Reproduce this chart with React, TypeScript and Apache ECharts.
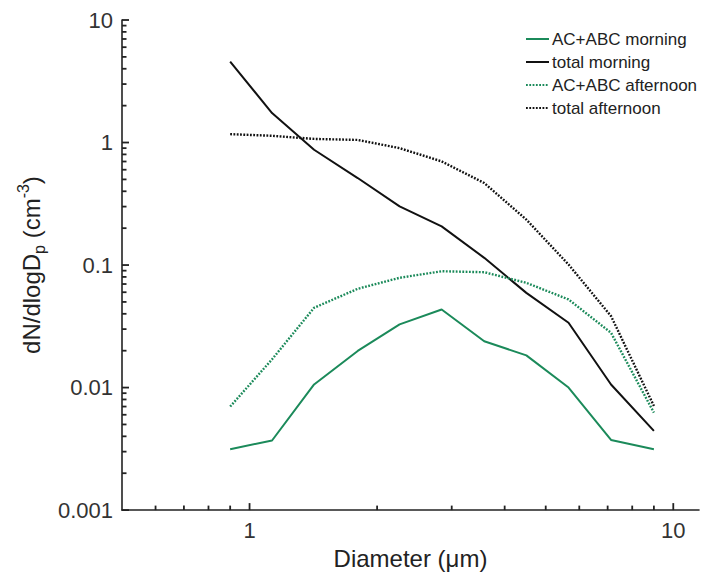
import React, { useEffect, useRef } from "react";
import * as echarts from "echarts";

// Diameters (µm) at which the size distributions are given
const diameters = [0.9, 1.13, 1.42, 1.8, 2.26, 2.84, 3.58, 4.5, 5.66, 7.13, 9.0];
// dN/dlogDp (cm^-3)
const acMorning = [0.00314, 0.0037, 0.0106, 0.0199, 0.0328, 0.0434, 0.0239, 0.0183, 0.01, 0.00374, 0.00314];
const totalMorning = [4.57, 1.74, 0.873, 0.513, 0.301, 0.207, 0.1145, 0.0593, 0.0338, 0.0106, 0.00443];
const acAfternoon = [0.007, 0.017, 0.0448, 0.064, 0.0787, 0.089, 0.0874, 0.0716, 0.0524, 0.028, 0.00625];
const totalAfternoon = [1.17, 1.135, 1.07, 1.05, 0.9, 0.701, 0.467, 0.235, 0.101, 0.0383, 0.00708];

const seriesNames = ["AC+ABC morning", "total morning", "AC+ABC afternoon", "total afternoon"];

// Axis ranges and ticks
const xMin = 0.5;
const xMax = 11.5;
const yMin = 0.001;
const yMax = 10;
const xMajorTicks = [1, 10];
const xMinorTicks = [0.6, 0.7, 0.8, 0.9, 2, 3, 4, 5, 6, 7, 8, 9];
const yMajorTicks = [0.001, 0.01, 0.1, 1, 10];
const yMinorMultipliers = [2, 3, 4, 5, 6, 7, 8, 9];
const yDecades = [0.001, 0.01, 0.1, 1];

const FONT = "Liberation Sans, Arial, Helvetica, sans-serif";
const GREEN = "#1b8a5a";
const BLACK = "#111111";
const AXIS = "#222222";
const DOT: number[] = [1.8, 1.5];

export default function App() {
  const ref = useRef<HTMLDivElement>(null);

  useEffect(() => {
    if (!ref.current) return;
    const chart = echarts.init(ref.current, undefined, { renderer: "svg" });

    const pairs = (ys: number[]) => diameters.map((d, i) => [d, ys[i]]);

    const isDecade = (v: number) => {
      const l = Math.log10(v);
      return Math.abs(l - Math.round(l)) < 1e-6;
    };
    const fmt = (v: number) => (isDecade(v) ? String(Number(v.toPrecision(3))) : "");

    chart.setOption({
      animation: false,
      backgroundColor: "#ffffff",
      grid: { left: 122, right: 0, top: 20, bottom: 64, containLabel: false },
      legend: {
        orient: "vertical",
        left: 525,
        top: 30,
        padding: 0,
        itemWidth: 23,
        itemHeight: 10,
        itemGap: 5,
        data: seriesNames,
        itemStyle: { opacity: 0, borderWidth: 0 },
        textStyle: { fontFamily: FONT, fontSize: 17, color: "#222", lineHeight: 18, padding: [0, 0, 0, -2] },
      },
      xAxis: {
        type: "log",
        logBase: 10,
        min: xMin,
        max: xMax,
        name: "Diameter (μm)",
        nameLocation: "middle",
        nameGap: 32,
        nameTextStyle: { fontFamily: FONT, fontSize: 24, color: "#222" },
        axisLine: { show: true, lineStyle: { color: AXIS, width: 1.6 } },
        axisTick: { show: false },
        splitLine: { show: false },
        minorTick: { show: false },
        axisLabel: { formatter: fmt, fontFamily: FONT, fontSize: 22, color: "#333", margin: 9 },
      },
      yAxis: {
        type: "log",
        logBase: 10,
        min: yMin,
        max: yMax,
        name: "{a|dN/dlogD}{sub|p}{a| (cm}{sup|-3}{a|)}",
        nameLocation: "middle",
        nameRotate: 90,
        nameGap: 62,
        nameTextStyle: {
          fontFamily: FONT,
          fontSize: 24,
          color: "#222",
          rich: {
            a: { fontFamily: FONT, fontSize: 24, color: "#222", lineHeight: 32, verticalAlign: "middle" },
            sub: { fontFamily: FONT, fontSize: 16, color: "#222", lineHeight: 32, verticalAlign: "bottom" },
            sup: { fontFamily: FONT, fontSize: 16, color: "#222", lineHeight: 32, verticalAlign: "top" },
          },
        },
        axisLine: { show: true, lineStyle: { color: AXIS, width: 1.6 } },
        axisTick: { show: false },
        splitLine: { show: false },
        minorTick: { show: false },
        axisLabel: { formatter: fmt, fontFamily: FONT, fontSize: 22, color: "#333", margin: 9 },
      },
      series: [
        {
          name: seriesNames[0],
          type: "line",
          data: pairs(acMorning),
          symbol: "none",
          lineStyle: { color: GREEN, width: 2 },
          itemStyle: { color: GREEN },
        },
        {
          name: seriesNames[1],
          type: "line",
          data: pairs(totalMorning),
          symbol: "none",
          lineStyle: { color: BLACK, width: 2 },
          itemStyle: { color: BLACK },
        },
        {
          name: seriesNames[2],
          type: "line",
          data: pairs(acAfternoon),
          symbol: "none",
          lineStyle: { color: GREEN, width: 2.4, type: DOT },
          itemStyle: { color: GREEN },
        },
        {
          name: seriesNames[3],
          type: "line",
          data: pairs(totalAfternoon),
          symbol: "none",
          lineStyle: { color: BLACK, width: 2.4, type: DOT },
          itemStyle: { color: BLACK },
        },
      ],
    });

    // Tick marks (inward), positioned through the chart's own log scales
    const ticks: any[] = [];
    const toPx = (x: number, y: number) =>
      chart.convertToPixel({ gridIndex: 0 }, [x, y]) as number[];
    const xTick = (v: number, len: number) => {
      const p = toPx(v, yMin);
      ticks.push({
        type: "line",
        z: 100,
        silent: true,
        shape: { x1: p[0], y1: p[1], x2: p[0], y2: p[1] - len },
        style: { stroke: AXIS, lineWidth: 1.8 },
      });
    };
    const yTick = (v: number, len: number) => {
      const p = toPx(xMin, v);
      ticks.push({
        type: "line",
        z: 100,
        silent: true,
        shape: { x1: p[0], y1: p[1], x2: p[0] + len, y2: p[1] },
        style: { stroke: AXIS, lineWidth: 1.8 },
      });
    };
    xMajorTicks.forEach((v) => xTick(v, 7));
    xMinorTicks.forEach((v) => xTick(v, 4.5));
    yMajorTicks.forEach((v) => yTick(v, 7));
    yDecades.forEach((dec) => yMinorMultipliers.forEach((m) => yTick(dec * m, 4.5)));
    chart.setOption({ graphic: [{ elements: ticks }] });

    return () => chart.dispose();
  }, []);

  return (
    <div
      ref={ref}
      style={{ position: "fixed", left: 0, top: 0, width: 702, height: 575, background: "#fff" }}
    />
  );
}
